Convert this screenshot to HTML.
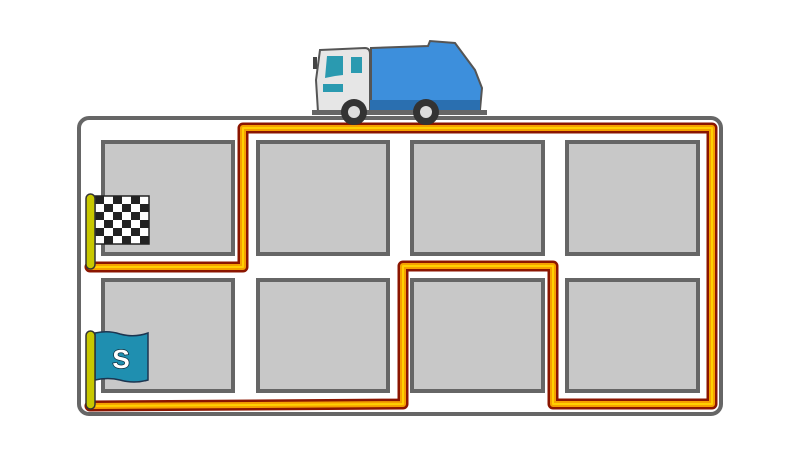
<!DOCTYPE html>
<html><head><meta charset="utf-8"><style>body{margin:0;background:#fff}svg{display:block}</style></head>
<body>
<svg width="800" height="449" viewBox="0 0 800 449" xmlns="http://www.w3.org/2000/svg">
<rect x="79" y="118" width="642" height="296" rx="10" fill="#fff" stroke="#666" stroke-width="4"/>
<g fill="#c8c8c8" stroke="#666" stroke-width="4">
<rect x="103" y="142" width="130" height="112"/>
<rect x="258" y="142" width="130" height="112"/>
<rect x="412" y="142" width="131" height="112"/>
<rect x="567" y="142" width="131" height="112"/>
<rect x="103" y="280" width="130" height="111"/>
<rect x="258" y="280" width="130" height="111"/>
<rect x="412" y="280" width="131" height="111"/>
<rect x="567" y="280" width="131" height="111"/>
</g>
<g fill="none" stroke-linejoin="round" stroke-linecap="round">
<path d="M90 406 L403 404 L403 266 L553 266 L553 404 L712 404 L712 128 L243 128 L243 267 L90 267" stroke="#8b1500" stroke-width="11"/>
<path d="M90 406 L403 404 L403 266 L553 266 L553 404 L712 404 L712 128 L243 128 L243 267 L90 267" stroke="#f5a000" stroke-width="6"/>
<path d="M90 406 L403 404 L403 266 L553 266 L553 404 L712 404 L712 128 L243 128 L243 267 L90 267" stroke="#ffd000" stroke-width="2"/>
</g>
<!-- checkered flag -->
<g>
<rect x="95" y="196" width="54" height="48" fill="#fff" stroke="#222" stroke-width="1.5"/>
<g fill="#222">
<rect x="95" y="196" width="9" height="8"/><rect x="113" y="196" width="9" height="8"/><rect x="131" y="196" width="9" height="8"/>
<rect x="104" y="204" width="9" height="8"/><rect x="122" y="204" width="9" height="8"/><rect x="140" y="204" width="9" height="8"/>
<rect x="95" y="212" width="9" height="8"/><rect x="113" y="212" width="9" height="8"/><rect x="131" y="212" width="9" height="8"/>
<rect x="104" y="220" width="9" height="8"/><rect x="122" y="220" width="9" height="8"/><rect x="140" y="220" width="9" height="8"/>
<rect x="95" y="228" width="9" height="8"/><rect x="113" y="228" width="9" height="8"/><rect x="131" y="228" width="9" height="8"/>
<rect x="104" y="236" width="9" height="8"/><rect x="122" y="236" width="9" height="8"/><rect x="140" y="236" width="9" height="8"/>
</g>
<rect x="86" y="194" width="9" height="75" rx="4.5" fill="#c8c800" stroke="#333" stroke-width="1.5"/>
</g>
<!-- start flag -->
<g>
<path d="M95 333 Q108 330 120 334 Q134 338 148 333 L148 380 Q134 384 120 380 Q108 377 95 380 Z" fill="#1f8fb0" stroke="#1c3550" stroke-width="1.5"/>
<text x="121" y="368" font-family="Liberation Sans, sans-serif" font-weight="bold" font-size="26" fill="#fff" stroke="#103040" stroke-width="1.5" text-anchor="middle" paint-order="stroke">S</text>
<rect x="86" y="331" width="9" height="78" rx="4.5" fill="#c8c800" stroke="#333" stroke-width="1.5"/>
</g>
<!-- truck -->
<g stroke="#555" stroke-width="2">
<path d="M371 48 L428 46 L430 41 L455 43 L475 70 L482 88 L480 110 L456 112 L371 112 Z" fill="#3d8fdc"/>
<path d="M320 50 L365 48 Q370 48 370 54 L370 112 L318 112 L316 80 Z" fill="#e6e6e6"/>
<rect x="370" y="100" width="110" height="12" fill="#2a6fb0" stroke="none"/>
</g>
<path d="M327 56 L343 56 L343 75 L335 76 L325 78 Z" fill="#2a9ab0"/>
<rect x="351" y="57" width="11" height="16" fill="#2a9ab0"/>
<rect x="323" y="84" width="20" height="8" fill="#2a9ab0"/>
<rect x="313" y="57" width="4" height="12" fill="#444"/>
<rect x="312" y="110" width="175" height="5" fill="#666"/>
<circle cx="354" cy="112" r="13" fill="#333"/><circle cx="354" cy="112" r="6" fill="#ddd"/>
<circle cx="426" cy="112" r="13" fill="#333"/><circle cx="426" cy="112" r="6" fill="#ddd"/>
</svg>
</body></html>
